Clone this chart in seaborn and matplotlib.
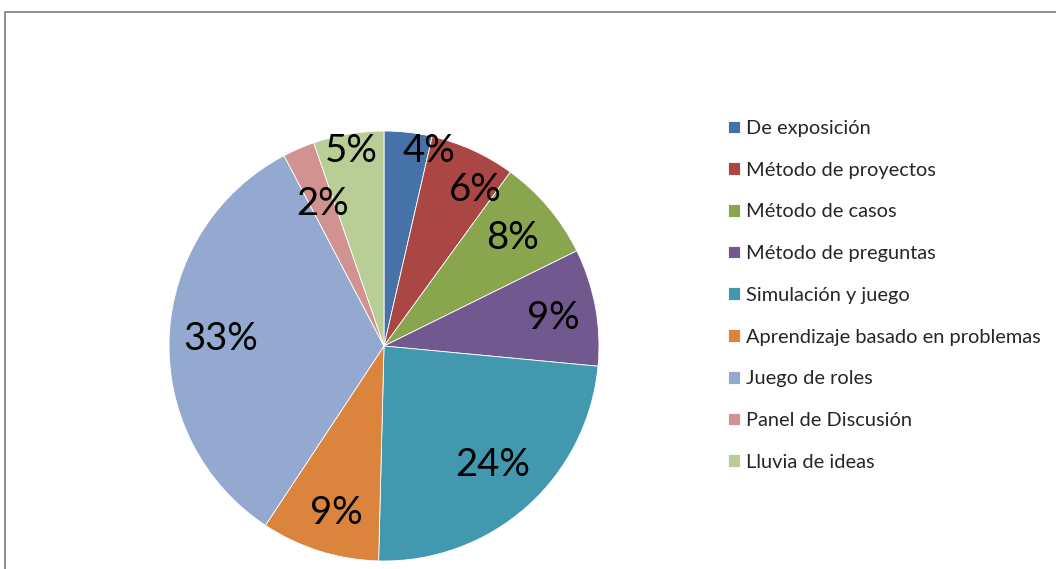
import numpy as np
import matplotlib
matplotlib.use("Agg")
import matplotlib.pyplot as plt
from matplotlib.patches import Rectangle
import seaborn as sns

categories = ["De exposición", "Método de proyectos", "Método de casos",
              "Método de preguntas", "Simulación y juego",
              "Aprendizaje basado en problemas", "Juego de roles",
              "Panel de Discusión", "Lluvia de ideas"]
values = [3.6, 6.4, 7.7, 8.8, 23.9, 8.9, 33.0, 2.4, 5.3]
pct_labels = ["4%", "6%", "8%", "9%", "24%", "9%", "33%", "2%", "5%"]
colors = ["#4572A7", "#AA4643", "#89A54E", "#71588F", "#4198AF",
          "#DB843D", "#93A9CF", "#D19392", "#B9CD96"]

sns.set_style("white")
plt.rcParams["font.family"] = ["Lato", "DejaVu Sans"]
palette = sns.color_palette(colors)

W, H = 1056, 569
fig = plt.figure(figsize=(W / 100, H / 100), dpi=100)

# chart border (cropped chart area)
fig.patches.append(Rectangle((4.5 / W, -0.1), 1.2, (H - 12) / H + 0.1,
                             transform=fig.transFigure, fill=False,
                             edgecolor="#868686", linewidth=1.3))

cx, cy, R = 384, 346, 215
ax = fig.add_axes([(cx - R) / W, (H - cy - R) / H, 2 * R / W, 2 * R / H])
wedges, _ = ax.pie(values, colors=palette, startangle=90, counterclock=False,
                   radius=1, wedgeprops=dict(edgecolor="white", linewidth=0.6))
ax.set_xlim(-1, 1)
ax.set_ylim(-1, 1)
ax.set_aspect("equal")
ax.axis("off")

# label placement: radial fraction and angular shift (deg, clockwise)
label_r = [0.93, 0.84, 0.78, 0.80, 0.75, 0.81, 0.76, 0.72, 0.92]
label_shift = [6.5, 6.0, 0, 1.0, -1.0, -1.5, -0.5, 0, 0]
for w, txt, r, s in zip(wedges, pct_labels, label_r, label_shift):
    mid = np.deg2rad((w.theta1 + w.theta2) / 2 - s)
    ax.text(r * np.cos(mid), r * np.sin(mid), txt, ha="center", va="center",
            fontsize=27.5, color="black")

leg = fig.legend(wedges, categories, loc="upper left",
                 bbox_to_anchor=(710 / W, 1 - 102 / H), frameon=False,
                 fontsize=14.4, handlelength=0.6, handleheight=0.6,
                 handletextpad=0.3, labelspacing=1.235)

fig.savefig("out.png", dpi=100)
